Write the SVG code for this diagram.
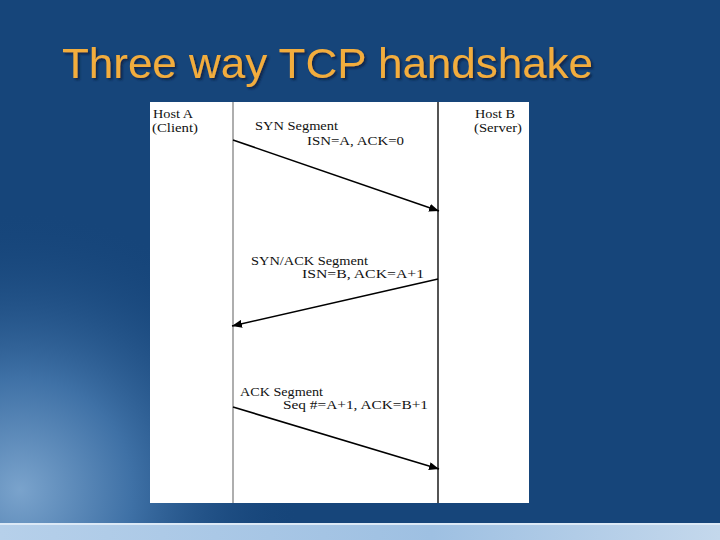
<svg xmlns="http://www.w3.org/2000/svg" width="720" height="540" viewBox="0 0 720 540">
  <defs>
    <radialGradient id="glow" gradientUnits="userSpaceOnUse" cx="20" cy="490" r="280">
      <stop offset="0" stop-color="#7aa3cc"/>
      <stop offset="0.4" stop-color="#3f71a6"/>
      <stop offset="1" stop-color="#16457a" stop-opacity="0"/>
    </radialGradient>
    <linearGradient id="strip" x1="0" y1="0" x2="1" y2="0">
      <stop offset="0" stop-color="#b6d0ea"/>
      <stop offset="0.6" stop-color="#9ec0e2"/>
      <stop offset="1" stop-color="#c4d8ec"/>
    </linearGradient>
    <filter id="tshadow" x="-5%" y="-20%" width="110%" height="150%">
      <feDropShadow dx="2" dy="2" stdDeviation="0.8" flood-color="#0a2240" flood-opacity="0.85"/>
    </filter>
    <marker id="arrow" viewBox="0 0 10 8" refX="10" refY="4" markerWidth="10" markerHeight="8" markerUnits="userSpaceOnUse" orient="auto">
      <path d="M0,0 L10,4 L0,8 z" fill="#000"/>
    </marker>
    <style>
      .title { font-family: "Liberation Sans", Arial, sans-serif; font-size: 42px; fill: #f2ad3e; }
      .lbl { font-family: "Liberation Serif", "Times New Roman", serif; font-size: 12px; fill: #111; }
      .msg { stroke: #000; stroke-width: 1.6; fill: none; marker-end: url(#arrow); }
    </style>
  </defs>

  <!-- background -->
  <rect x="0" y="0" width="720" height="540" fill="#16457a"/>
  <rect x="0" y="0" width="720" height="540" fill="url(#glow)"/>
  <rect x="0" y="523" width="720" height="17" fill="url(#strip)"/>
  <rect x="0" y="523" width="720" height="2" fill="#dce9f6"/>

  <!-- title -->
  <text class="title" x="62" y="78" textLength="531" lengthAdjust="spacingAndGlyphs" filter="url(#tshadow)">Three way TCP handshake</text>

  <!-- diagram panel -->
  <rect x="150" y="102" width="379" height="401" fill="#ffffff"/>

  <g id="hostA">
    <line x1="233" y1="102" x2="233" y2="503" stroke="#9a9a9a" stroke-width="1.6"/>
    <text class="lbl" x="153" y="118" textLength="40" lengthAdjust="spacingAndGlyphs">Host A</text>
    <text class="lbl" x="152" y="132" textLength="46" lengthAdjust="spacingAndGlyphs">(Client)</text>
  </g>

  <g id="hostB">
    <line x1="438" y1="102" x2="438" y2="503" stroke="#2a2a2a" stroke-width="1.6"/>
    <text class="lbl" x="475" y="118" textLength="40" lengthAdjust="spacingAndGlyphs">Host B</text>
    <text class="lbl" x="474" y="132" textLength="48" lengthAdjust="spacingAndGlyphs">(Server)</text>
  </g>

  <g id="connectors">
    <g id="syn">
      <line class="msg" x1="233" y1="140" x2="439" y2="211"/>
      <text class="lbl" x="255" y="130" textLength="83" lengthAdjust="spacingAndGlyphs">SYN Segment</text>
      <text class="lbl" x="307" y="145" textLength="97" lengthAdjust="spacingAndGlyphs">ISN=A,  ACK=0</text>
    </g>
    <g id="synack">
      <line class="msg" x1="438" y1="279" x2="232" y2="326"/>
      <text class="lbl" x="251" y="265" textLength="117" lengthAdjust="spacingAndGlyphs">SYN/ACK Segment</text>
      <text class="lbl" x="302" y="278" textLength="122" lengthAdjust="spacingAndGlyphs">ISN=B,  ACK=A+1</text>
    </g>
    <g id="ack">
      <line class="msg" x1="233" y1="407" x2="439" y2="469"/>
      <text class="lbl" x="240" y="396" textLength="83" lengthAdjust="spacingAndGlyphs">ACK Segment</text>
      <text class="lbl" x="283" y="409" textLength="145" lengthAdjust="spacingAndGlyphs">Seq #=A+1,  ACK=B+1</text>
    </g>
  </g>
</svg>
